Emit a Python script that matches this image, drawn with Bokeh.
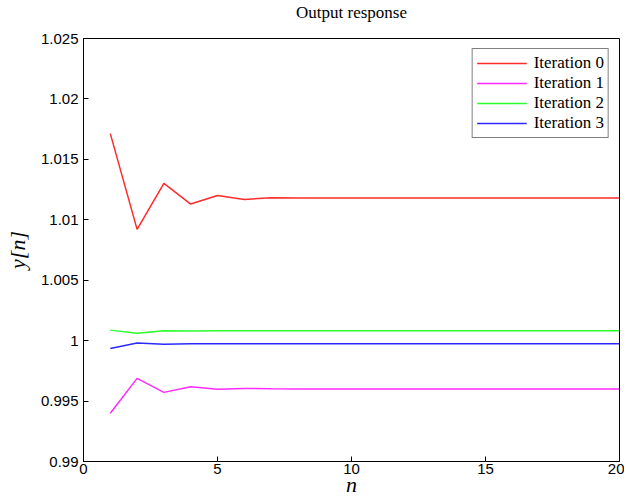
from bokeh.plotting import figure
from bokeh.models import Range1d, FixedTicker, Legend, LegendItem
from bokeh.embed import file_html
from bokeh.resources import INLINE

n = list(range(1, 21))
iter0 = [1.01713, 1.00921, 1.01301, 1.01130, 1.01201, 1.01168, 1.01182, 1.01180, 1.01180, 1.01180,
         1.01180, 1.01180, 1.01180, 1.01180, 1.01180, 1.01180, 1.01180, 1.01180, 1.01180, 1.01180]
iter1 = [0.99399, 0.99688, 0.99572, 0.99619, 0.99598, 0.99605, 0.99601, 0.99600, 0.99600, 0.99600,
         0.99600, 0.99600, 0.99600, 0.99600, 0.99600, 0.99600, 0.99600, 0.99600, 0.99600, 0.99600]
iter2 = [1.00087, 1.00062, 1.00082, 1.00080, 1.00081, 1.00081, 1.00081, 1.00081, 1.00081, 1.00081,
         1.00081, 1.00081, 1.00081, 1.00081, 1.00081, 1.00081, 1.00081, 1.00081, 1.00081, 1.00081]
iter3 = [0.99935, 0.99980, 0.99971, 0.99974, 0.99974, 0.99974, 0.99974, 0.99974, 0.99974, 0.99974,
         0.99974, 0.99974, 0.99974, 0.99974, 0.99974, 0.99974, 0.99974, 0.99974, 0.99974, 0.99974]
series_names = ["Iteration 0", "Iteration 1", "Iteration 2", "Iteration 3"]
series_colors = ["#ff2a2a", "#ff2aff", "#2aff2a", "#2a2aff"]

x_ticks = [0, 5, 10, 15, 20]
y_ticks = [0.99, 0.995, 1.0, 1.005, 1.01, 1.015, 1.02, 1.025]
y_tick_labels = ["0.99", "0.995", "1", "1.005", "1.01", "1.015", "1.02", "1.025"]

p = figure(width=624, height=500, output_backend="svg", toolbar_location=None,
           x_range=Range1d(0, 20), y_range=Range1d(0.99, 1.025),
           title="Output response\n",
           min_border_left=83, min_border_right=5, min_border_top=37, min_border_bottom=39)
p.background_fill_color = "white"
p.border_fill_color = "white"
p.outline_line_color = "black"
p.outline_line_width = 1
p.xgrid.visible = False
p.ygrid.visible = False

p.title.align = "center"
p.title.vertical_align = "bottom"
p.title.text_font = "Liberation Serif"
p.title.text_font_style = "normal"
p.title.text_font_size = "17px"
p.title.text_line_height = 0.88
p.title.text_color = "black"
p.title.offset = 0
p.title.standoff = 0

items = []
for ys, name, col in zip([iter0, iter1, iter2, iter3], series_names, series_colors):
    r = p.line(n, ys, line_color=col, line_width=1.5)
    items.append(LegendItem(label=name, renderers=[r]))

legend = Legend(items=items, location="top_right", margin=10,
                label_text_font="Liberation Serif", label_text_font_size="17px",
                label_text_color="black", glyph_width=50, glyph_height=20,
                label_standoff=7, spacing=0, padding=4, label_height=20,
                border_line_color="black", border_line_width=1,
                background_fill_color="white", background_fill_alpha=1)
p.add_layout(legend, "center")

for ax in (p.xaxis[0], p.yaxis[0]):
    ax.major_tick_in = 5
    ax.major_tick_out = 0
    ax.minor_tick_in = 0
    ax.minor_tick_out = 0
    ax.axis_line_color = "black"
    ax.major_tick_line_color = "black"
    ax.major_label_text_font = "Liberation Sans"
    ax.major_label_text_font_size = "15px"
    ax.major_label_text_color = "black"
    ax.axis_label_text_font = "Liberation Serif"
    ax.axis_label_text_font_style = "italic"
    ax.axis_label_text_font_size = "22px"
    ax.axis_label_text_color = "black"

p.xaxis[0].ticker = FixedTicker(ticks=x_ticks)
p.yaxis[0].ticker = FixedTicker(ticks=y_ticks)
p.yaxis[0].major_label_overrides = {t: l for t, l in zip(y_ticks, y_tick_labels)}
p.xaxis[0].axis_label = "n"
p.yaxis[0].axis_label = "y[n]"
p.xaxis[0].major_label_standoff = 2
p.yaxis[0].major_label_standoff = 5
p.xaxis[0].axis_label_standoff = -5
p.yaxis[0].axis_label_standoff = 8

open("out.html", "w").write(file_html(p, INLINE))
